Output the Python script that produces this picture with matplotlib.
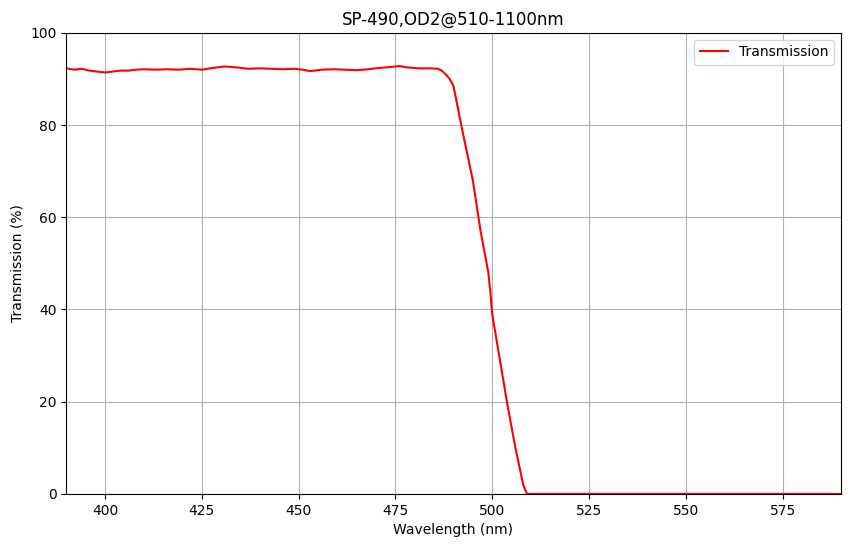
import matplotlib
matplotlib.use("Agg")
import matplotlib.pyplot as plt

wavelength = [390, 392, 394, 396, 398, 400, 402, 404, 406, 408, 410, 413, 416, 419, 422, 425, 428,
              431, 434, 437, 440, 443, 446, 449, 451, 453, 456, 459, 462, 465, 468, 471, 474, 476,
              478, 481, 484, 486, 487, 488, 489, 490, 492, 495, 497, 499, 499.5, 500, 502, 504,
              506, 508, 509, 520, 550, 590]
transmission = [92.3, 92.0, 92.2, 91.8, 91.6, 91.4, 91.6, 91.8, 91.8, 92.0, 92.1, 92.0, 92.1, 92.0,
                92.2, 92.0, 92.4, 92.7, 92.5, 92.2, 92.3, 92.2, 92.1, 92.2, 92.0, 91.7, 92.0, 92.1,
                92.0, 91.9, 92.1, 92.4, 92.6, 92.8, 92.5, 92.3, 92.3, 92.2, 91.8, 91.0, 90.0,
                88.5, 80.0, 68.0, 57.0, 48.0, 44.0, 39.0, 29.0, 19.0, 10.0, 2.0, 0.0, 0.0, 0.0, 0.0]

fig, ax = plt.subplots(figsize=(8.5, 5.47), dpi=100)
ax.plot(wavelength, transmission, color="red", label="Transmission")
ax.set_xlim(390, 590)
ax.set_ylim(0, 100)
ax.set_title("SP-490,OD2@510-1100nm")
ax.set_xlabel("Wavelength (nm)")
ax.set_ylabel("Transmission (%)")
ax.grid(True)
ax.legend(loc="upper right")
plt.subplots_adjust(left=0.078, right=0.989, top=0.94, bottom=0.097)
plt.savefig("out.png", dpi=100)
